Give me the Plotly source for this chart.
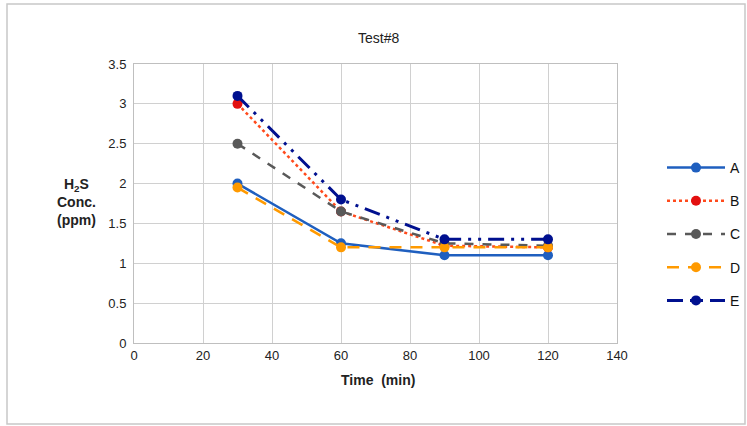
import plotly.graph_objects as go

time_min = [30, 60, 90, 120]
series_names = ["A", "B", "C", "D", "E"]
A = [2.0, 1.25, 1.1, 1.1]
B = [3.0, 1.65, 1.22, 1.2]
C = [2.5, 1.65, 1.25, 1.22]
D = [1.95, 1.2, 1.2, 1.2]
E = [3.1, 1.8, 1.3, 1.3]
x_ticks = [0, 20, 40, 60, 80, 100, 120, 140]
y_ticks = [0, 0.5, 1, 1.5, 2, 2.5, 3, 3.5]
y_tick_labels = ["0", "0.5", "1", "1.5", "2", "2.5", "3", "3.5"]

styles = {
    "A": dict(line=dict(color="#1F5FBF", width=2.5, dash="solid"), marker=dict(color="#1F5FBF", size=10)),
    "B": dict(line=dict(color="#FF4A1C", width=2.5, dash="dot"), marker=dict(color="#E31010", size=10)),
    "C": dict(line=dict(color="#595959", width=2.5, dash="dash"), marker=dict(color="#595959", size=10)),
    "D": dict(line=dict(color="#FF9A00", width=2.5, dash="12px,9px"), marker=dict(color="#FF9A00", size=10)),
    "E": dict(line=dict(color="#00108F", width=3, dash="16px,7px,3px,7px,3px,7px"), marker=dict(color="#00108F", size=10)),
}
data = {"A": A, "B": B, "C": C, "D": D, "E": E}

fig = go.Figure()
for name in series_names:
    fig.add_trace(go.Scatter(
        x=time_min, y=data[name], name=name, mode="lines+markers",
        legendgroup=name, **styles[name]))

W, H = 747, 426
L, R, T, Bm = 134, 617, 64, 343
def px(xp):
    return (xp - L) / (R - L)
def py(yp):
    return (Bm - yp) / (Bm - T)

font_family = "Liberation Sans, Arial, sans-serif"
fig.update_layout(
    width=W, height=H,
    margin=dict(l=L, r=W - R, t=T, b=H - Bm, autoexpand=False),
    paper_bgcolor="white", plot_bgcolor="white",
    font=dict(family=font_family, size=13, color="#222222"),
    showlegend=True,
    legend=dict(x=px(662), y=py(152), xanchor="left", yanchor="top",
                font=dict(size=14, color="#111111"), tracegroupgap=12,
                itemwidth=58, bgcolor="rgba(0,0,0,0)"),
    xaxis=dict(range=[0, 140], tickvals=x_ticks, showgrid=True, gridcolor="#D0D0D0",
               gridwidth=1, showline=True, linecolor="#BFBFBF", mirror=True,
               zeroline=False, ticks="", tickfont=dict(size=13, color="#222222")),
    yaxis=dict(range=[0, 3.5], tickvals=y_ticks, ticktext=y_tick_labels, showgrid=True,
               gridcolor="#D0D0D0", gridwidth=1, showline=True, linecolor="#BFBFBF",
               mirror=True, zeroline=False, ticks="", ticklabelstandoff=4,
               tickfont=dict(size=13, color="#222222")),
    shapes=[dict(type="rect", xref="paper", yref="paper",
                 x0=px(7), x1=px(745), y0=py(424), y1=py(4),
                 line=dict(color="#C8C8C8", width=1.5), fillcolor="rgba(0,0,0,0)", layer="below")],
    annotations=[
        dict(text="Test#8", xref="paper", yref="paper", x=px(378), y=py(28),
             showarrow=False, font=dict(size=14, color="#222222",
                                        family="Liberation Sans Narrow, Liberation Sans, sans-serif")),
        dict(text="<b>H<sub>2</sub>S<br>Conc.<br>(ppm)</b>", xref="paper", yref="paper",
             x=px(55), y=py(202), showarrow=False, align="center",
             font=dict(size=14, color="#222222")),
        dict(text="<b>Time  (min)</b>", xref="paper", yref="paper", x=px(378), y=py(390),
             showarrow=False, font=dict(size=14, color="#222222")),
    ],
)

fig.write_html("out.html")
